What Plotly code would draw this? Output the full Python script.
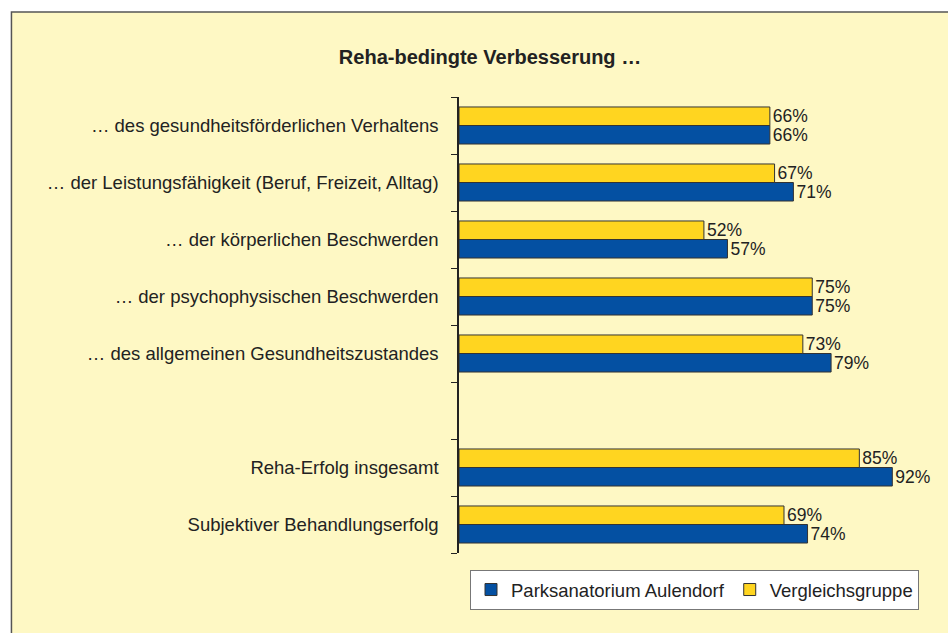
import plotly.graph_objects as go

categories = [
    "… des gesundheitsförderlichen Verhaltens",
    "… der Leistungsfähigkeit (Beruf, Freizeit, Alltag)",
    "… der körperlichen Beschwerden",
    "… der psychophysischen Beschwerden",
    "… des allgemeinen Gesundheitszustandes",
    " ",
    "Reha-Erfolg insgesamt",
    "Subjektiver Behandlungserfolg",
]
aulendorf = [66, 71, 57, 75, 79, None, 92, 74]
vergleich = [66, 67, 52, 75, 73, None, 85, 69]
series_names = ["Parksanatorium Aulendorf", "Vergleichsgruppe"]

FONT = "Liberation Sans, Arial, sans-serif"
TXT = "#222222"
BG = "#FEF8C4"
FS = 18.5
FS_VAL = 17.5

def labels(vals):
    return [f"{v}%" if v is not None else "" for v in vals]

fig = go.Figure()
fig.add_trace(go.Bar(
    y=categories, x=aulendorf, orientation="h", name=series_names[0],
    marker=dict(color="#0450A2", line=dict(color="#333333", width=1)),
    text=labels(aulendorf), textposition="outside", constraintext="none",
    textfont=dict(family=FONT, size=FS_VAL, color=TXT), cliponaxis=False,
))
fig.add_trace(go.Bar(
    y=categories, x=vergleich, orientation="h", name=series_names[1],
    marker=dict(color="#FFD520", line=dict(color="#333333", width=1)),
    text=labels(vergleich), textposition="outside", constraintext="none",
    textfont=dict(family=FONT, size=FS_VAL, color=TXT), cliponaxis=False,
))

L, R, T, B = 458.5, 17.5, 97, 80
W, H = 948, 633
pw, ph = W - L - R, H - T - B

def px_x(X):
    return (X - L) / pw

def px_y(Y):
    return (H - B - Y) / ph

fig.add_shape(type="rect", xref="paper", yref="paper", layer="below",
              x0=px_x(10), x1=px_x(990), y0=px_y(700), y1=px_y(12),
              fillcolor=BG, line=dict(color="#555555", width=1.5))

fig.update_layout(
    width=W, height=H,
    margin=dict(l=L, r=R, t=T, b=B),
    paper_bgcolor="white", plot_bgcolor="rgba(0,0,0,0)",
    barmode="group", bargap=0.35, bargroupgap=0,
    font=dict(family=FONT, size=FS, color=TXT),
    title=dict(text="<b>Reha-bedingte Verbesserung …</b>", xref="container", yref="container",
               x=490 / W, xanchor="center", y=1 - 57 / H, yanchor="middle",
               font=dict(family=FONT, size=20, color=TXT)),
    xaxis=dict(range=[0, 100], visible=False, fixedrange=True),
    yaxis=dict(type="category", categoryorder="array", categoryarray=categories[::-1],
               showline=True, linecolor="#222222", linewidth=1.5,
               ticks="outside", ticklen=6, tickcolor="#222222", tickson="boundaries",
               showgrid=False, zeroline=False, ticklabelstandoff=15, fixedrange=True,
               tickfont=dict(family=FONT, size=FS, color=TXT)),
    showlegend=True,
    legend=dict(orientation="h", x=0.5, xanchor="center", y=px_y(570), yanchor="top",
                bgcolor="white", bordercolor="#777777", borderwidth=1,
                font=dict(family=FONT, size=FS, color=TXT), traceorder="normal",
                itemwidth=30),
)

fig.write_html("out.html", config={"displayModeBar": False},
               post_script="document.body.style.margin='0';document.body.style.overflow='hidden';")
